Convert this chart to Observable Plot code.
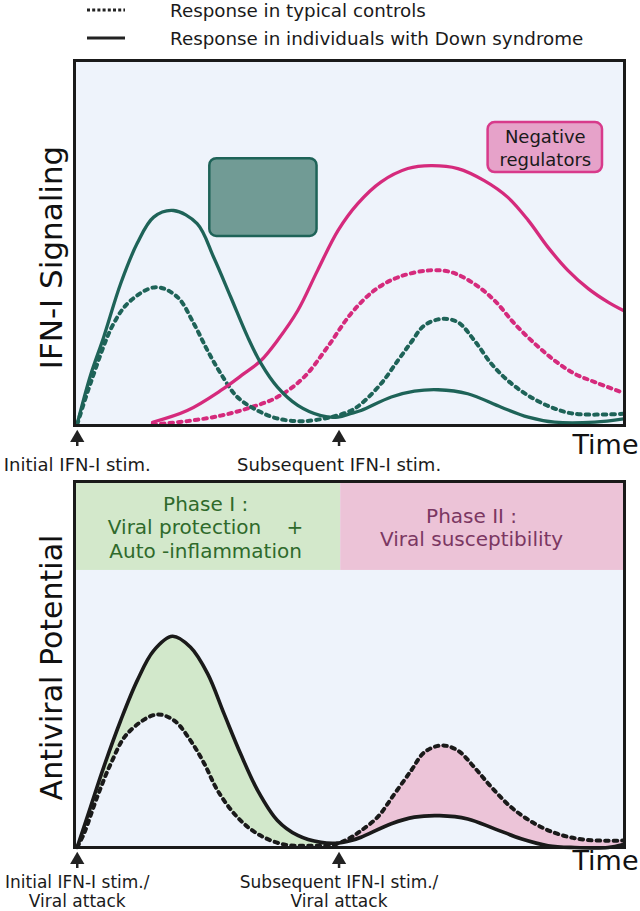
<!DOCTYPE html>
<html><head><meta charset="utf-8">
<script src="https://cdn.jsdelivr.net/npm/d3@7"></script>
<script src="https://cdn.jsdelivr.net/npm/@observablehq/plot@0.6"></script>
<style>
body{margin:0;background:#fff;font-family:"DejaVu Sans",sans-serif;}
svg{display:block}
</style></head><body>
<div id="legend"></div>
<div id="chart"></div>
<script>
// ---------- data ----------
const legendLabels = ["Response in typical controls", "Response in individuals with Down syndrome"];
const stimTimes = [0.5, 48.1];
const stimLabels1 = ["Initial IFN-I stim.", "Subsequent IFN-I stim."];
const stimLabels2 = ["Initial IFN-I stim./\nViral attack", "Subsequent IFN-I stim./\nViral attack"];

// Panel 1 : IFN-I signaling
const tealSolidT = [0.5,2.9,5.3,8.4,11.4,14.4,18.0,22.3,25.3,28.4,31.5,33.9,36.9,40.6,44.8,47.9,50.3,52.1,57.6,61.8,66.1,71.5,77.6,82.5,87.3,94.6,99.8];
const tealSolidV = [0.5,13.7,24.2,38.9,49.9,57.1,58.9,55.3,46.1,35.2,24.2,17.0,10.5,5.5,2.7,2.3,3.3,4.1,7.8,9.4,9.8,8.7,5.0,2.3,0.9,0.9,1.8];
const tealDotT = [0.5,2.9,7.1,10.2,14.8,18.7,21.7,24.2,26.6,29.6,33.3,36.9,41.7,46.6,50.3,52.1,55.7,58.8,61.2,63.6,66.7,69.7,72.7,75.8,78.8,82.5,86.7,90.9,99.8];
const tealDotV = [0.3,11.5,27.9,34.2,37.9,35.2,27.9,20.5,14.2,7.8,4.1,1.9,1.2,2.3,4.1,5.9,11.4,17.8,22.8,27.4,29.2,28.3,23.3,16.9,12.3,8.2,5.0,3.2,3.2];
const pinkSolidT = [14.2,20.5,26.6,30.8,33.9,36.9,40.6,44.2,47.9,51.5,55.7,60.6,64.8,69.7,74.5,78.8,82.5,86.1,89.7,93.4,97.0,99.8];
const pinkSolidV = [0.9,4.1,9.6,14.2,17.8,23.3,31.5,42.5,53.4,60.8,66.7,70.4,71.2,70.4,67.1,62.5,56.2,48.8,42.5,37.5,33.8,31.5];
const pinkDotT = [14.2,20.5,26.6,31.5,36.9,41.7,46.0,50.3,54.5,58.8,64.5,68.5,72.7,76.4,80.0,83.7,87.3,90.9,94.6,99.5];
const pinkDotV = [0.3,1.2,2.7,4.7,7.8,13.2,21.5,30.7,37.0,40.6,42.5,42.0,38.8,34.2,27.9,22.4,17.8,14.2,11.9,9.1];
const boxLabels = ["", "Negative\nregulators"];
const boxX1 = [24.6, 75.2], boxX2 = [44.1, 96.0], boxY1 = [51.8, 69.3], boxY2 = [73.1, 83.0];

// Panel 2 : Antiviral potential
const dsT = [0.5,2.9,5.3,8.4,11.4,14.4,17.8,21.1,24.2,27.2,30.2,33.3,36.9,40.6,44.8,47.9,50.3,52.1,57.6,61.8,66.4,71.5,76.4,81.2,86.1,90.9,97.0,99.8];
const dsV = [0.1,11.0,21.9,34.7,45.6,53.8,57.7,54.7,47.5,36.5,25.6,15.6,7.4,3.3,1.4,1.2,1.9,2.8,6.5,8.3,8.7,7.8,5.1,2.4,0.5,0,0,0.8];
const ctlT = [0.5,1.7,4.1,6.6,9.6,14.8,18.1,21.1,23.6,26.0,29.6,33.3,38.1,43.0,47.2,50.3,52.1,55.1,58.2,61.2,63.6,66.7,69.7,72.7,75.8,79.4,83.7,87.9,92.8,99.8];
const ctlV = [0.1,3.7,13.7,22.9,31.1,36.3,34.7,29.2,22.9,15.6,8.3,3.7,0.8,0.5,0.8,2.8,4.6,8.3,14.7,21.0,26.0,27.9,26.5,21.9,16.5,11.0,6.5,3.7,2.1,1.9];
const phaseNames = ["Phase I :\nViral protection\u00a0\u00a0\u00a0\u00a0+\nAuto -inflammation", "Phase II :\nViral susceptibility"];
const phaseStart = [0, 48.4], phaseEnd = [48.4, 100];
const phaseBandBottom = 75.7;
const phaseSplit = 47.5;

// ---------- styles ----------
const BG = "#eef3fb", TEAL = "#1e6358", PINK = "#d52a7c", INK = "#1a1a1a";
const FONT = "DejaVu Sans";
const zip = (T, V) => T.map((t, i) => ({t, v: V[i]}));
const curve = "catmull-rom";
const DOTS = "3.5 5";
const phaseText = ["#2f6a2b", "#7b3762"], phaseFill = ["#d3e8cb", "#ecc3d7"], phaseDx = [-2, -11];

// ---------- legend ----------
{
  const dashes = ["3 2.2", null];
  const ns = "http://www.w3.org/2000/svg";
  const svg = document.createElementNS(ns, "svg");
  svg.setAttribute("width", 640); svg.setAttribute("height", 56);
  svg.setAttribute("font-family", FONT);
  legendLabels.forEach((lab, i) => {
    const y = 10 + i * 28;
    const l = document.createElementNS(ns, "line");
    l.setAttribute("x1", 87); l.setAttribute("x2", 125); l.setAttribute("y1", y); l.setAttribute("y2", y);
    l.setAttribute("stroke", "#222"); l.setAttribute("stroke-width", 3);
    if (dashes[i]) l.setAttribute("stroke-dasharray", dashes[i]);
    svg.appendChild(l);
    const t = document.createElementNS(ns, "text");
    t.setAttribute("x", 170); t.setAttribute("y", y + 6.5); t.setAttribute("font-size", 18.3);
    t.setAttribute("fill", "#1a1a1a");
    t.textContent = lab;
    svg.appendChild(t);
  });
  document.getElementById("legend").appendChild(svg);
}

// ---------- helpers ----------
function arrowMarks(plotH, labels, labelDy, fontSize, lineHeight) {
  const u = 100 / plotH; // data units per pixel
  return [
    Plot.ruleX(stimTimes, {x: d => d, y1: -14 * u, y2: -21 * u, stroke: "#222", strokeWidth: 2.5}),
    Plot.dot(stimTimes, {x: d => d, frameAnchor: "bottom", dy: 12.5, symbol: "triangle", r: 5.3, fill: "#222"}),
    Plot.text(stimTimes, {x: d => d, text: (d, i) => labels[i], frameAnchor: "bottom", dy: labelDy,
      lineAnchor: "middle", fontSize, lineHeight, fill: "#1a1a1a"})
  ];
}

// ---------- panel 1 ----------
const H1 = 365;
const p1 = Plot.plot({
  width: 640, height: 419, marginTop: 4, marginBottom: 50, marginLeft: 74, marginRight: 16,
  x: {domain: [0, 100], axis: null}, y: {domain: [0, 100], axis: null},
  style: {fontFamily: FONT, overflow: "visible", background: "transparent"},
  marks: [
    Plot.frame({fill: BG}),
    Plot.rect(boxLabels, {x1: (d, i) => boxX1[i], x2: (d, i) => boxX2[i], y1: (d, i) => boxY1[i], y2: (d, i) => boxY2[i],
      fill: (d, i) => ["#719b95", "#e6a2c9"][i], stroke: (d, i) => [TEAL, "#d83a8b"][i], strokeWidth: 2.5, rx: 7, ry: 7}),
    Plot.text(boxLabels, {x: (d, i) => (boxX1[i] + boxX2[i]) / 2, y: (d, i) => (boxY1[i] + boxY2[i]) / 2, text: d => d,
      fontSize: 18, lineHeight: 1.28, fill: "#1a1a1a"}),
    Plot.line(zip(pinkDotT, pinkDotV), {x: "t", y: "v", stroke: PINK, strokeWidth: 4, strokeDasharray: DOTS, curve}),
    Plot.line(zip(tealDotT, tealDotV), {x: "t", y: "v", stroke: TEAL, strokeWidth: 4, strokeDasharray: DOTS, curve}),
    Plot.line(zip(pinkSolidT, pinkSolidV), {x: "t", y: "v", stroke: PINK, strokeWidth: 3.3, curve}),
    Plot.line(zip(tealSolidT, tealSolidV), {x: "t", y: "v", stroke: TEAL, strokeWidth: 3.3, curve}),
    Plot.frame({stroke: INK, strokeWidth: 3}),
    ...arrowMarks(H1, stimLabels1, 40, 18, 1),
    Plot.text(["IFN-I Signaling"], {frameAnchor: "left", text: d => d, rotate: -90, textAnchor: "middle",
      dx: -22, dy: 14.5, fontSize: 31, fill: "#111"}),
    Plot.text(["Time"], {frameAnchor: "bottom-right", text: d => d, textAnchor: "end", dx: 14, dy: 28, fontSize: 27, fill: "#111"})
  ]
});

// ---------- panel 2 ----------
const H2 = 366;
const ds = zip(dsT, dsV), ctl = zip(ctlT, ctlV);
const phaseMarks = phaseNames.map((name, i) =>
  Plot.text([name], {x: (phaseStart[i] + phaseEnd[i]) / 2, y: (phaseBandBottom + 100) / 2, text: d => d,
    dx: phaseDx[i], dy: 1, fontSize: 20, lineHeight: 1.17, fill: phaseText[i]}));
const p2 = Plot.plot({
  width: 640, height: 436, marginTop: 6, marginBottom: 64, marginLeft: 74, marginRight: 16,
  x: {domain: [0, 100], axis: null}, y: {domain: [0, 100], axis: null},
  style: {fontFamily: FONT, overflow: "visible", background: "transparent"},
  marks: [
    Plot.frame({fill: BG}),
    Plot.rect(phaseNames, {x1: (d, i) => phaseStart[i], x2: (d, i) => phaseEnd[i], y1: phaseBandBottom, y2: 100,
      fill: (d, i) => phaseFill[i]}),
    ...phaseMarks,
    Plot.areaY(ds.filter(d => d.t <= phaseSplit + 0.5), {x: "t", y: "v", fill: "#d2e8cb", curve}),
    Plot.areaY(ctl.filter(d => d.t <= phaseSplit + 0.5), {x: "t", y: "v", fill: BG, curve}),
    Plot.areaY(ctl.filter(d => d.t >= phaseSplit - 0.5), {x: "t", y: "v", fill: "#ecc4d8", curve}),
    Plot.areaY(ds.filter(d => d.t >= phaseSplit - 0.5), {x: "t", y: "v", fill: BG, curve}),
    Plot.line(ctl, {x: "t", y: "v", stroke: INK, strokeWidth: 4, strokeDasharray: DOTS, curve}),
    Plot.line(ds, {x: "t", y: "v", stroke: INK, strokeWidth: 3.6, curve}),
    Plot.frame({stroke: INK, strokeWidth: 3}),
    ...arrowMarks(H2, stimLabels2, 44, 17, 1.14),
    Plot.text(["Antiviral Potential"], {frameAnchor: "left", text: d => d, rotate: -90, textAnchor: "middle",
      dx: -22, dy: 3, fontSize: 30, fill: "#111"}),
    Plot.text(["Time"], {frameAnchor: "bottom-right", text: d => d, textAnchor: "end", dx: 14, dy: 22, fontSize: 27, fill: "#111"})
  ]
});

const c = document.getElementById("chart");
c.appendChild(p1);
c.appendChild(p2);
</script>
</body></html>
